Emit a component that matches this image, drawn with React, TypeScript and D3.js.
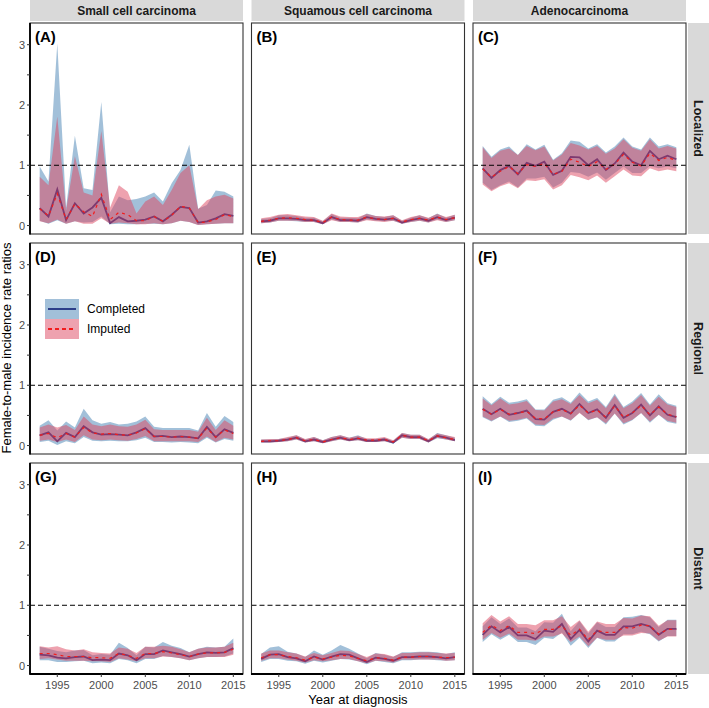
import React from "react";
import * as d3 from "d3";

const years = [1993,1994,1995,1996,1997,1998,1999,2000,2001,2002,2003,2004,2005,2006,2007,2008,2009,2010,2011,2012,2013,2014,2015];
const histologies = ["Small cell carcinoma", "Squamous cell carcinoma", "Adenocarcinoma"];
const stages = ["Localized", "Regional", "Distant"];
const panelLetters = ["A","B","C","D","E","F","G","H","I"];
const xTicks = [1995, 2000, 2005, 2010, 2015];
const yTicks = [0, 0.5, 1, 1.5, 2, 2.5, 3];
const yTickLabels = ["0", "", "1", "", "2", "", "3"];
const seriesNames = ["Completed", "Imputed"];

// Panel A: small cell, localized
const aComp = [0.29,0.15,0.60,0.09,0.37,0.20,0.30,0.46,0.04,0.14,0.07,0.08,0.10,0.15,0.07,0.18,0.31,0.29,0.05,0.07,0.12,0.19,0.16];
const aCompLo = [0.08,0.03,0.09,0.03,0.07,0.05,0.06,0.15,0.02,0.03,0.02,0.02,0.03,0.03,0.02,0.04,0.08,0.06,0.01,0.02,0.03,0.04,0.04];
const aCompHi = [0.98,0.73,3.02,0.30,1.49,0.62,0.59,2.05,0.22,0.48,0.42,0.44,0.48,0.55,0.40,0.70,0.92,1.34,0.28,0.34,0.58,0.56,0.48];
const aImp = [0.28,0.16,0.53,0.10,0.36,0.23,0.15,0.52,0.10,0.22,0.18,0.08,0.08,0.15,0.07,0.17,0.32,0.29,0.05,0.06,0.10,0.18,0.15];
const aImpLo = [0.07,0.04,0.10,0.03,0.07,0.03,0.03,0.12,0.03,0.05,0.04,0.02,0.02,0.04,0.02,0.04,0.08,0.06,0.01,0.02,0.03,0.04,0.04];
const aImpHi = [0.81,0.67,1.81,0.25,1.15,0.55,0.50,1.57,0.30,0.67,0.56,0.20,0.40,0.48,0.34,0.59,0.87,1.00,0.27,0.42,0.48,0.51,0.45];

// Panel B: squamous, localized
const bComp = [0.07,0.08,0.12,0.12,0.11,0.09,0.09,0.04,0.14,0.09,0.09,0.08,0.14,0.11,0.10,0.12,0.05,0.09,0.12,0.08,0.14,0.09,0.13];
const bCompLo = [0.04,0.05,0.08,0.08,0.07,0.06,0.06,0.02,0.10,0.06,0.06,0.05,0.10,0.08,0.07,0.08,0.03,0.06,0.08,0.05,0.10,0.06,0.09];
const bCompHi = [0.11,0.12,0.17,0.17,0.16,0.13,0.13,0.07,0.19,0.13,0.13,0.12,0.20,0.16,0.14,0.17,0.08,0.13,0.17,0.12,0.20,0.13,0.18];
const bImp = [0.07,0.09,0.12,0.13,0.12,0.10,0.09,0.05,0.14,0.10,0.09,0.09,0.14,0.11,0.10,0.12,0.06,0.10,0.12,0.09,0.14,0.10,0.13];
const bImpLo = [0.04,0.05,0.08,0.08,0.08,0.06,0.06,0.02,0.09,0.06,0.06,0.05,0.09,0.07,0.06,0.08,0.03,0.06,0.08,0.05,0.09,0.06,0.09];
const bImpHi = [0.12,0.14,0.18,0.19,0.17,0.15,0.14,0.08,0.20,0.15,0.14,0.14,0.19,0.16,0.15,0.17,0.09,0.14,0.17,0.13,0.19,0.14,0.18];

// Panel C: adenocarcinoma, localized
const cComp = [0.95,0.79,0.92,0.99,0.85,1.04,0.99,1.06,0.84,0.91,1.14,1.13,1.00,1.10,0.92,1.03,1.21,1.06,1.00,1.24,1.10,1.16,1.10];
const cCompLo = [0.71,0.59,0.67,0.73,0.63,0.78,0.78,0.81,0.63,0.71,0.89,0.87,0.81,0.88,0.76,0.87,0.98,0.87,0.87,0.99,0.95,0.98,0.95];
const cCompHi = [1.32,1.14,1.26,1.31,1.17,1.35,1.26,1.34,1.09,1.20,1.41,1.39,1.28,1.35,1.21,1.31,1.46,1.31,1.26,1.46,1.31,1.35,1.30];
const cImp = [0.94,0.80,0.90,0.98,0.86,1.01,0.98,1.03,0.85,0.90,1.10,1.05,0.98,1.06,0.93,1.02,1.18,1.05,0.99,1.20,1.08,1.13,1.08];
const cImpLo = [0.68,0.57,0.65,0.70,0.62,0.75,0.74,0.77,0.60,0.67,0.84,0.80,0.75,0.83,0.71,0.82,0.93,0.83,0.82,0.95,0.90,0.93,0.90];
const cImpHi = [1.30,1.12,1.24,1.28,1.17,1.32,1.25,1.31,1.08,1.18,1.37,1.33,1.26,1.32,1.19,1.28,1.43,1.29,1.24,1.43,1.28,1.32,1.28];

// Panel D: small cell, regional
const dComp = [0.17,0.22,0.07,0.21,0.14,0.32,0.22,0.18,0.19,0.18,0.17,0.22,0.29,0.15,0.16,0.14,0.15,0.14,0.12,0.31,0.14,0.27,0.21];
const dCompLo = [0.06,0.08,0.01,0.07,0.04,0.14,0.08,0.07,0.08,0.07,0.07,0.09,0.13,0.06,0.06,0.05,0.06,0.05,0.04,0.13,0.05,0.11,0.08];
const dCompHi = [0.33,0.42,0.25,0.40,0.30,0.61,0.42,0.36,0.39,0.35,0.36,0.40,0.48,0.31,0.29,0.29,0.29,0.29,0.25,0.54,0.31,0.49,0.39];
const dImp = [0.17,0.20,0.13,0.20,0.14,0.30,0.21,0.19,0.20,0.18,0.17,0.21,0.28,0.15,0.15,0.14,0.15,0.14,0.12,0.29,0.14,0.26,0.20];
const dImpLo = [0.08,0.10,0.06,0.10,0.06,0.17,0.10,0.09,0.10,0.09,0.08,0.11,0.16,0.07,0.07,0.07,0.07,0.07,0.06,0.15,0.06,0.13,0.10];
const dImpHi = [0.30,0.35,0.30,0.34,0.26,0.48,0.35,0.32,0.35,0.32,0.31,0.35,0.43,0.27,0.26,0.26,0.26,0.26,0.23,0.46,0.26,0.42,0.33];

// Panel E: squamous, regional
const eComp = [0.07,0.07,0.08,0.10,0.13,0.07,0.10,0.06,0.10,0.13,0.09,0.12,0.08,0.08,0.10,0.05,0.17,0.14,0.14,0.07,0.16,0.13,0.09];
const eCompLo = [0.05,0.05,0.06,0.07,0.10,0.05,0.07,0.04,0.07,0.10,0.07,0.09,0.06,0.06,0.07,0.03,0.13,0.11,0.11,0.05,0.12,0.10,0.07];
const eCompHi = [0.10,0.10,0.11,0.13,0.17,0.10,0.14,0.09,0.14,0.17,0.13,0.17,0.11,0.11,0.13,0.08,0.21,0.18,0.18,0.10,0.21,0.17,0.13];
const eImp = [0.07,0.08,0.08,0.10,0.13,0.08,0.10,0.06,0.10,0.13,0.10,0.12,0.09,0.09,0.10,0.06,0.17,0.14,0.14,0.08,0.16,0.13,0.10];
const eImpLo = [0.05,0.05,0.06,0.07,0.10,0.05,0.07,0.04,0.07,0.10,0.07,0.09,0.06,0.06,0.07,0.04,0.13,0.11,0.11,0.05,0.13,0.10,0.07];
const eImpHi = [0.10,0.11,0.11,0.14,0.17,0.11,0.14,0.09,0.14,0.17,0.13,0.16,0.12,0.12,0.14,0.09,0.21,0.18,0.18,0.11,0.20,0.17,0.14];

// Panel F: adenocarcinoma, regional
const fComp = [0.61,0.52,0.61,0.51,0.54,0.58,0.44,0.43,0.56,0.61,0.53,0.69,0.54,0.60,0.46,0.67,0.46,0.54,0.68,0.50,0.65,0.51,0.47];
const fCompLo = [0.47,0.40,0.48,0.39,0.41,0.45,0.33,0.32,0.43,0.48,0.41,0.55,0.42,0.47,0.35,0.53,0.35,0.42,0.54,0.38,0.51,0.39,0.36];
const fCompHi = [0.82,0.69,0.81,0.71,0.73,0.77,0.60,0.60,0.76,0.80,0.71,0.88,0.73,0.79,0.64,0.86,0.64,0.73,0.87,0.68,0.85,0.70,0.66];
const fImp = [0.60,0.52,0.60,0.52,0.54,0.57,0.45,0.44,0.56,0.60,0.53,0.67,0.54,0.59,0.47,0.66,0.47,0.54,0.67,0.51,0.64,0.52,0.48];
const fImpLo = [0.48,0.41,0.48,0.41,0.43,0.46,0.35,0.34,0.45,0.48,0.42,0.54,0.43,0.47,0.37,0.53,0.37,0.43,0.54,0.40,0.51,0.41,0.38];
const fImpHi = [0.78,0.67,0.78,0.68,0.70,0.74,0.59,0.58,0.73,0.77,0.69,0.84,0.70,0.76,0.62,0.83,0.62,0.70,0.84,0.66,0.81,0.68,0.64];

// Panel G: small cell, distant
const gComp = [0.18,0.17,0.13,0.12,0.14,0.15,0.09,0.10,0.09,0.20,0.17,0.09,0.19,0.19,0.25,0.22,0.19,0.15,0.19,0.22,0.21,0.22,0.29];
const gCompLo = [0.09,0.09,0.06,0.06,0.07,0.08,0.04,0.05,0.04,0.11,0.09,0.04,0.11,0.11,0.16,0.14,0.12,0.09,0.12,0.14,0.14,0.15,0.20];
const gCompHi = [0.31,0.28,0.24,0.22,0.25,0.26,0.17,0.19,0.18,0.38,0.29,0.17,0.31,0.30,0.39,0.33,0.29,0.22,0.28,0.31,0.30,0.31,0.45];
const gImp = [0.20,0.20,0.18,0.15,0.15,0.15,0.13,0.13,0.12,0.20,0.17,0.12,0.20,0.20,0.23,0.21,0.18,0.15,0.19,0.21,0.21,0.22,0.27];
const gImpLo = [0.11,0.12,0.10,0.08,0.08,0.08,0.07,0.07,0.06,0.12,0.10,0.07,0.12,0.12,0.15,0.14,0.12,0.09,0.12,0.14,0.14,0.14,0.18];
const gImpHi = [0.32,0.30,0.32,0.27,0.25,0.27,0.22,0.21,0.20,0.30,0.28,0.21,0.31,0.31,0.33,0.31,0.27,0.22,0.28,0.30,0.30,0.31,0.38];

// Panel H: squamous, distant
const hComp = [0.11,0.18,0.19,0.14,0.12,0.07,0.15,0.10,0.15,0.19,0.18,0.12,0.06,0.13,0.11,0.08,0.14,0.14,0.15,0.15,0.14,0.12,0.14];
const hCompLo = [0.06,0.11,0.11,0.08,0.07,0.03,0.08,0.05,0.08,0.11,0.10,0.07,0.02,0.08,0.06,0.04,0.09,0.09,0.10,0.10,0.09,0.08,0.09];
const hCompHi = [0.19,0.30,0.32,0.23,0.20,0.14,0.25,0.18,0.25,0.34,0.28,0.20,0.12,0.21,0.18,0.14,0.22,0.22,0.23,0.23,0.22,0.19,0.22];
const hImp = [0.13,0.18,0.18,0.15,0.13,0.09,0.14,0.11,0.14,0.17,0.16,0.12,0.08,0.13,0.12,0.09,0.14,0.14,0.15,0.15,0.14,0.13,0.14];
const hImpLo = [0.08,0.12,0.12,0.10,0.08,0.05,0.09,0.07,0.09,0.11,0.11,0.07,0.04,0.08,0.07,0.05,0.10,0.10,0.10,0.10,0.10,0.08,0.09];
const hImpHi = [0.20,0.25,0.25,0.22,0.20,0.15,0.21,0.17,0.21,0.25,0.24,0.19,0.14,0.20,0.19,0.15,0.21,0.21,0.22,0.22,0.21,0.20,0.21];

// Panel I: adenocarcinoma, distant
const iComp = [0.51,0.65,0.55,0.64,0.50,0.50,0.44,0.58,0.56,0.69,0.44,0.59,0.40,0.58,0.51,0.51,0.65,0.65,0.69,0.65,0.51,0.61,0.61];
const iCompLo = [0.39,0.52,0.43,0.51,0.39,0.39,0.34,0.46,0.44,0.55,0.33,0.46,0.29,0.46,0.40,0.40,0.52,0.52,0.56,0.52,0.40,0.49,0.49];
const iCompHi = [0.65,0.80,0.69,0.78,0.63,0.63,0.57,0.72,0.71,0.86,0.57,0.74,0.53,0.72,0.64,0.64,0.80,0.81,0.84,0.80,0.64,0.76,0.76];
const iImp = [0.55,0.67,0.58,0.66,0.55,0.55,0.53,0.60,0.60,0.66,0.50,0.60,0.43,0.58,0.55,0.55,0.63,0.62,0.67,0.66,0.52,0.60,0.60];
const iImpLo = [0.43,0.54,0.46,0.53,0.43,0.43,0.41,0.48,0.48,0.53,0.39,0.48,0.32,0.46,0.43,0.43,0.50,0.50,0.54,0.53,0.41,0.48,0.48];
const iImpHi = [0.70,0.84,0.73,0.82,0.69,0.69,0.67,0.75,0.75,0.82,0.64,0.75,0.56,0.73,0.69,0.69,0.79,0.78,0.83,0.82,0.66,0.75,0.75];

const panels = [
  [aComp, aCompLo, aCompHi, aImp, aImpLo, aImpHi],
  [bComp, bCompLo, bCompHi, bImp, bImpLo, bImpHi],
  [cComp, cCompLo, cCompHi, cImp, cImpLo, cImpHi],
  [dComp, dCompLo, dCompHi, dImp, dImpLo, dImpHi],
  [eComp, eCompLo, eCompHi, eImp, eImpLo, eImpHi],
  [fComp, fCompLo, fCompHi, fImp, fImpLo, fImpHi],
  [gComp, gCompLo, gCompHi, gImp, gImpLo, gImpHi],
  [hComp, hCompLo, hCompHi, hImp, hImpLo, hImpHi],
  [iComp, iCompLo, iCompHi, iImp, iImpLo, iImpHi],
];

const W = 709, H = 708;
const colLeft = [30, 251.5, 473];
const panelW = 213;
const rowTop = [23, 243, 463];
const panelH = 211;
const FONT = "'Liberation Sans', Arial, Helvetica, sans-serif";

const BLUE_FILL = "#4682b4";
const BLUE_LINE = "#1f2f80";
const RED_FILL = "#de4660";
const RED_LINE = "#f21c1c";
const FILL_OP = 0.5;

function Panel({ idx }: { idx: number }) {
  const r = Math.floor(idx / 3), c = idx % 3;
  const x0 = colLeft[c], y0 = rowTop[r];
  const x = d3.scaleLinear().domain([1991.9, 2016.1]).range([x0, x0 + panelW]);
  const y = d3.scaleLinear().domain([-0.14, 3.36]).range([y0 + panelH, y0]);
  const [est, lo, hi, iest, ilo, ihi] = panels[idx];
  const area = (l: number[], u: number[]) =>
    d3.area<number>().x((_, i) => x(years[i])).y0((_, i) => y(l[i])).y1((_, i) => y(u[i]))(years as any) || "";
  const line = (v: number[]) =>
    d3.line<number>().x((_, i) => x(years[i])).y((_, i) => y(v[i]))(years as any) || "";
  return (
    <g>
      <rect x={x0} y={y0} width={panelW} height={panelH} fill="#fff" />
      <path d={area(lo, hi)} fill={BLUE_FILL} fillOpacity={FILL_OP} />
      <path d={line(est)} fill="none" stroke={BLUE_LINE} strokeWidth={1.8} />
      <path d={area(ilo, ihi)} fill={RED_FILL} fillOpacity={FILL_OP} />
      <path d={line(iest)} fill="none" stroke={RED_LINE} strokeWidth={1.2} strokeDasharray="3,4" />
      <line x1={x0} x2={x0 + panelW} y1={y(1)} y2={y(1)} stroke="#000" strokeWidth={1} strokeDasharray="5,3" />
      <rect x={x0} y={y0} width={panelW} height={panelH} fill="none" stroke="#333" strokeWidth={1.1} />
      {c === 0 && <line x1={x0} x2={x0} y1={y0} y2={y0 + panelH + 0.5} stroke="#000" strokeWidth={1.8} />}
      {r === 2 && <line x1={x0 - 0.5} x2={x0 + panelW} y1={y0 + panelH} y2={y0 + panelH} stroke="#000" strokeWidth={1.8} />}
      <text x={x0 + 5} y={y0 + 19} fontFamily={FONT} fontWeight="bold" fontSize={15} fill="#000">
        ({panelLetters[idx]})
      </text>
      {c === 0 && yTicks.map((t, k) => (
        <g key={k}>
          <line x1={x0 - 3} x2={x0} y1={y(t)} y2={y(t)} stroke="#333" strokeWidth={1} />
          {yTickLabels[k] && (
            <text x={x0 - 5} y={y(t)} dy="0.36em" textAnchor="end" fontFamily={FONT} fontSize={11} fill="#4d4d4d">
              {yTickLabels[k]}
            </text>
          )}
        </g>
      ))}
      {r === 2 && xTicks.map((t) => (
        <g key={t}>
          <line x1={x(t)} x2={x(t)} y1={y0 + panelH} y2={y0 + panelH + 3} stroke="#333" strokeWidth={1} />
          <text x={x(t)} y={y0 + panelH + 15} textAnchor="middle" fontFamily={FONT} fontSize={11} fill="#4d4d4d">
            {t}
          </text>
        </g>
      ))}
    </g>
  );
}

export default function App() {
  return (
    <svg width={W} height={H} style={{ position: "absolute", left: 0, top: 0, background: "#fff" }}>
      <rect x={0} y={0} width={W} height={H} fill="#fff" />
      {histologies.map((h, c) => (
        <g key={h}>
          <rect x={colLeft[c]} y={0} width={panelW} height={21} fill="#d9d9d9" />
          <text x={colLeft[c] + panelW / 2} y={11} dy="0.36em" textAnchor="middle" fontFamily={FONT} fontWeight="bold" fontSize={12} fill="#1a1a1a">
            {h}
          </text>
        </g>
      ))}
      {stages.map((s, r) => (
        <g key={s}>
          <rect x={688} y={rowTop[r]} width={21} height={panelH} fill="#d9d9d9" />
          <text transform={`translate(${698},${rowTop[r] + panelH / 2}) rotate(90)`} dy="0.36em" textAnchor="middle" fontFamily={FONT} fontWeight="bold" fontSize={12.5} fill="#1a1a1a">
            {s}
          </text>
        </g>
      ))}
      {panels.map((_, i) => <Panel key={i} idx={i} />)}
      {/* legend */}
      <g>
        <rect x={45} y={299} width={34} height={20} fill={BLUE_FILL} fillOpacity={FILL_OP} />
        <line x1={48} x2={76} y1={309} y2={309} stroke={BLUE_LINE} strokeWidth={1.8} />
        <text x={87} y={309} dy="0.36em" fontFamily={FONT} fontSize={12} fill="#000">{seriesNames[0]}</text>
        <rect x={45} y={319} width={34} height={20} fill={RED_FILL} fillOpacity={FILL_OP} />
        <line x1={48} x2={76} y1={329} y2={329} stroke={RED_LINE} strokeWidth={1.8} strokeDasharray="4,3" />
        <text x={87} y={329} dy="0.36em" fontFamily={FONT} fontSize={12} fill="#000">{seriesNames[1]}</text>
      </g>
      <text x={358} y={704} textAnchor="middle" fontFamily={FONT} fontSize={13} fill="#000">Year at diagnosis</text>
      <text transform={`translate(11,${348}) rotate(-90)`} textAnchor="middle" fontFamily={FONT} fontSize={13} fill="#000">
        Female-to-male incidence rate ratios
      </text>
    </svg>
  );
}
